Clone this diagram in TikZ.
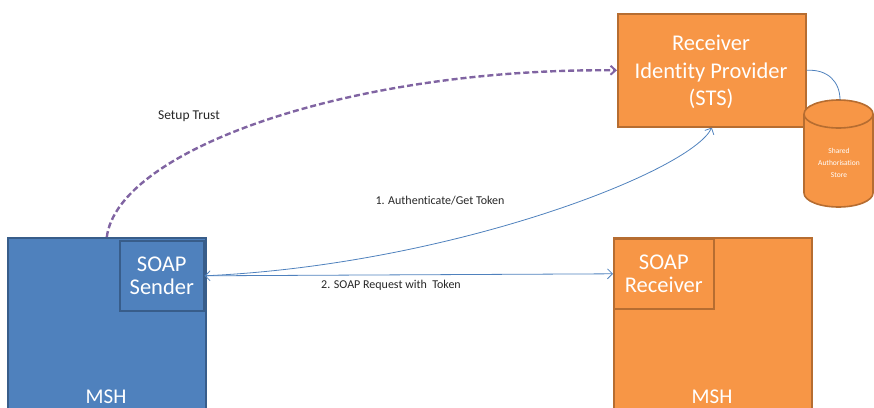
\documentclass[tikz,border=0pt]{standalone}
\usepackage{fontspec}
\setmainfont{Carlito}[Ligatures=NoCommon]
\usetikzlibrary{arrows.meta}
\definecolor{mshblue}{HTML}{4F81BD}
\definecolor{mshblueline}{HTML}{385D8A}
\definecolor{mshorange}{HTML}{F79646}
\definecolor{mshorangeline}{HTML}{B66D31}
\definecolor{trustpurple}{HTML}{8064A2}
\tikzset{
  bluebox/.style={draw=mshblueline, fill=mshblue, line width=1.6pt, text=white,
    font=\fontsize{22.5}{26}\selectfont, align=center, inner sep=0pt},
  orangebox/.style={draw=mshorangeline, fill=mshorange, line width=1.6pt, text=white,
    font=\fontsize{22.5}{26}\selectfont, align=center, inner sep=0pt},
  boxlabel/.style={text=white, font=\fontsize{21}{24}\selectfont, inner sep=0pt},
  conn/.style={draw=mshblue, line width=0.8pt},
  edgelabel/.style={font=\fontsize{12}{14}\selectfont, text=black!85, inner sep=0pt},
  >={Straight Barb[length=5pt, width=10pt]},
}
\begin{document}
\begin{tikzpicture}[x=1pt, y=-1pt]
\useasboundingbox (0,0) rectangle (874,407);
\clip (0,0) rectangle (874,407);

% sending message service handler
\node[bluebox, anchor=north west, minimum width=198pt, minimum height=190pt] (lmsh) at (7,237) {};
\node[boxlabel] (lmshlabel) at (106,397) {MSH};
\node[bluebox, anchor=north west, minimum width=84pt, minimum height=70pt] (sender) at (119,240)
  {SOAP\\[-3pt]Sender};

% receiving message service handler
\node[orangebox, anchor=north west, minimum width=198pt, minimum height=190pt] (rmsh) at (613,237) {};
\node[boxlabel] (rmshlabel) at (712,397) {MSH};
\node[orangebox, anchor=north west, minimum width=100pt, minimum height=70pt] (receiver) at (613,238)
  {SOAP\\[-3pt]Receiver};

% identity provider
\node[orangebox, anchor=north west, minimum width=188pt, minimum height=113pt] (sts) at (617,13) {};
\node[text=white, align=center, inner sep=0pt, font=\fontsize{22.5}{27.5}\selectfont] (ststext) at (711,72)
  {Receiver\\Identity Provider\\(STS)};

% shared authorisation store (cylinder)
\fill[mshorange] (804,114) -- (804,193) arc[start angle=180, end angle=0, x radius=34.5, y radius=14]
  -- (873,114) arc[start angle=0, end angle=-180, x radius=34.5, y radius=14] -- cycle;
\draw[mshorangeline, line width=1.6pt]
  (804,114) -- (804,193) arc[start angle=180, end angle=0, x radius=34.5, y radius=14] -- (873,114);
\draw[mshorangeline, line width=1.6pt] (838.5,114) ellipse[x radius=34.5, y radius=14];
\coordinate (storetop) at (840,100);
\node[text=white, font=\fontsize{7.5}{12}\selectfont, align=center, inner sep=0pt] (storelabel) at (839,163)
  {Shared\\Authorisation\\Store};

% connectors
\draw[conn] (sts.east) .. controls (828,69) and (840,82) .. (storetop);
\draw[conn, <->] (sender.east) -- (receiver.west);
\draw[conn, ->] (sender.east) .. controls (450,265) and (690,172) .. (sts.south);
\draw[draw=trustpurple, line width=2.4pt, dash pattern=on 6pt off 3pt,
  -{Straight Barb[length=5pt, width=9pt, line width=2pt]}]
  (lmsh.north) .. controls (118,150) and (350,68) .. (sts.west);

% labels
\node[edgelabel, font=\fontsize{13.5}{16}\selectfont] (trustlabel) at (189,116) {Setup Trust};
\node[edgelabel] (authlabel) at (440,201) {1. Authenticate/Get Token};
\node[edgelabel] (requestlabel) at (391,285) {2. SOAP Request with\ \ Token};
\end{tikzpicture}
\end{document}
